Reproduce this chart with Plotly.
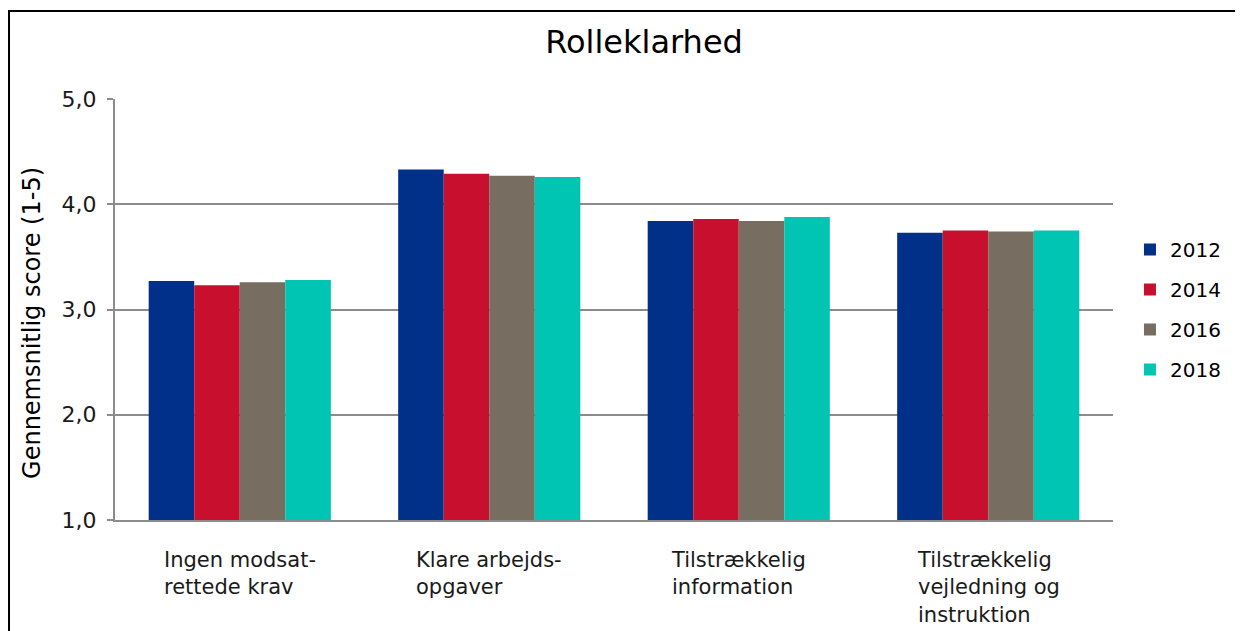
import plotly.graph_objects as go

# data
categories = ["Ingen modsat-<br>rettede krav", "Klare arbejds-<br>opgaver",
              "Tilstrækkelig<br>information", "Tilstrækkelig<br>vejledning og<br>instruktion"]
years = ["2012", "2014", "2016", "2018"]
v2012 = [3.27, 4.33, 3.84, 3.73]
v2014 = [3.23, 4.29, 3.86, 3.75]
v2016 = [3.26, 4.27, 3.84, 3.74]
v2018 = [3.28, 4.26, 3.88, 3.75]
values = [v2012, v2014, v2016, v2018]
colors = ["#003087", "#C8102E", "#776D61", "#00C5B3"]

FONT = "DejaVu Sans"

fig = go.Figure()
for yr, vals, col in zip(years, values, colors):
    fig.add_trace(go.Bar(x=categories, y=vals, name=yr, marker_color=col,
                         marker_line_width=0, legendgroup=yr))

# category labels: block centered, lines left aligned
for c in categories:
    fig.add_annotation(x=c, xref="x", y=0, yref="paper", yanchor="top", yshift=-26,
                       xanchor="center", align="left", text=c, showarrow=False,
                       font=dict(family=FONT, size=21, color="#1a1a1a"))

# y axis title (sits a bit below the axis centre in the original)
fig.add_annotation(x=-0.0832, xref="paper", y=0.468, yref="paper", textangle=-90,
                   text="Gennemsnitlig score (1-5)", showarrow=False,
                   xanchor="center", yanchor="middle",
                   font=dict(family=FONT, size=24, color="black"))

# outer frame: only left and top edges are inside the picture
fig.add_shape(type="path", xref="paper", yref="paper",
              path="M -0.1062,-0.35 L -0.1062,1.209 L 1.3,1.209",
              line=dict(color="black", width=2), layer="below")

# page body has an 8px margin, so the figure is 8px smaller than the window
fig.update_layout(
    width=1235, height=623,
    margin=dict(l=107, r=130, t=91, b=111, autoexpand=False),
    paper_bgcolor="white", plot_bgcolor="white",
    separators=",.",
    font=dict(family=FONT, size=22, color="#1a1a1a"),
    title=dict(text="Rolleklarhed", x=0.515, xref="container", y=1 - 34 / 623, yref="container",
               xanchor="center", yanchor="middle", font=dict(family=FONT, size=32, color="black")),
    barmode="group", bargap=0.27, bargroupgap=0,
    legend=dict(x=1.017, xanchor="left", y=0.5, yanchor="middle", traceorder="grouped",
                tracegroupgap=11, font=dict(family=FONT, size=20, color="black"),
                bgcolor="rgba(0,0,0,0)"),
    xaxis=dict(showticklabels=False, showline=True, linecolor="#8c8c8c", linewidth=2,
               ticks="", showgrid=False),
    yaxis=dict(range=[1, 5], tickvals=[1, 2, 3, 4, 5], tickformat=".1f",
               showgrid=True, gridcolor="#8c8c8c", gridwidth=2,
               showline=True, linecolor="#8c8c8c", linewidth=2,
               ticks="outside", ticklen=6, tickcolor="#8c8c8c", tickwidth=2,
               ticklabelstandoff=6, zeroline=False,
               tickfont=dict(family=FONT, size=22, color="#1a1a1a")),
)

fig.write_html("out.html")
